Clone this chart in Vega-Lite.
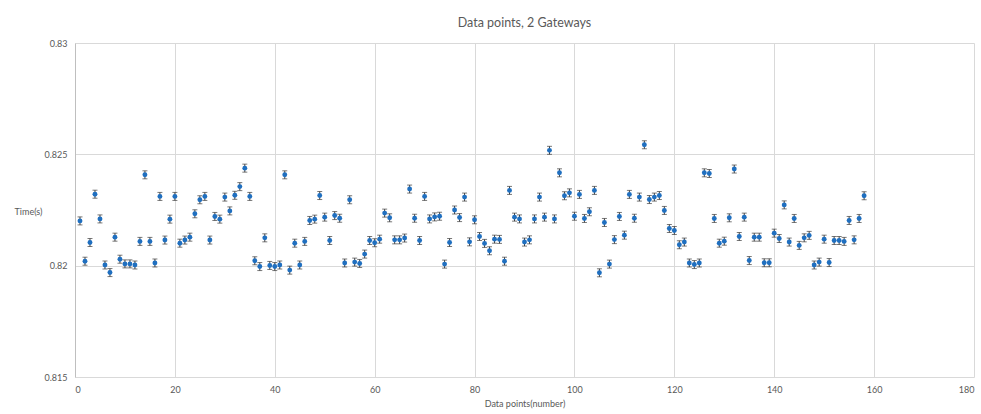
{
  "$schema": "https://vega.github.io/schema/vega-lite/v6.json",
  "autosize": "none",
  "width": 899,
  "height": 334,
  "padding": {"left": 75, "top": 43, "right": 7, "bottom": 37},
  "background": "white",
  "title": {
    "text": "Data points, 2 Gateways",
    "font": "Lato",
    "fontSize": 12.5,
    "fontWeight": "normal",
    "color": "#595959",
    "anchor": "middle",
    "offset": 10
  },
  "config": {
    "view": {"stroke": null},
    "axis": {
      "labelFont": "Lato",
      "titleFont": "Lato",
      "labelFontSize": 9,
      "titleFontSize": 9,
      "labelColor": "#595959",
      "titleColor": "#595959",
      "titleFontWeight": "normal",
      "gridColor": "#d9d9d9",
      "domainColor": "#bfbfbf",
      "ticks": false
    }
  },
  "data": {
    "values": [
      {"n":1,"t":0.82201,"err":0.00018},{"n":2,"t":0.8202,"err":0.00018},{"n":3,"t":0.82104,"err":0.00018},{"n":4,"t":0.82321,"err":0.00018},
      {"n":5,"t":0.8221,"err":0.00018},{"n":6,"t":0.82003,"err":0.00018},{"n":7,"t":0.81969,"err":0.00018},{"n":8,"t":0.82128,"err":0.00018},
      {"n":9,"t":0.82029,"err":0.00018},{"n":10,"t":0.82008,"err":0.00018},{"n":11,"t":0.82008,"err":0.00018},{"n":12,"t":0.82003,"err":0.00018},
      {"n":13,"t":0.82109,"err":0.00018},{"n":14,"t":0.82408,"err":0.00018},{"n":15,"t":0.82109,"err":0.00018},{"n":16,"t":0.82012,"err":0.00018},
      {"n":17,"t":0.82311,"err":0.00018},{"n":18,"t":0.82115,"err":0.00018},{"n":19,"t":0.82209,"err":0.00018},{"n":20,"t":0.82311,"err":0.00018},
      {"n":21,"t":0.82101,"err":0.00018},{"n":22,"t":0.82115,"err":0.00018},{"n":23,"t":0.82128,"err":0.00018},{"n":24,"t":0.82233,"err":0.00018},
      {"n":25,"t":0.82296,"err":0.00018},{"n":26,"t":0.82311,"err":0.00018},{"n":27,"t":0.82115,"err":0.00018},{"n":28,"t":0.82221,"err":0.00018},
      {"n":29,"t":0.82209,"err":0.00018},{"n":30,"t":0.82308,"err":0.00018},{"n":31,"t":0.82246,"err":0.00018},{"n":32,"t":0.82316,"err":0.00018},
      {"n":33,"t":0.82355,"err":0.00018},{"n":34,"t":0.82438,"err":0.00018},{"n":35,"t":0.82311,"err":0.00018},{"n":36,"t":0.82022,"err":0.00018},
      {"n":37,"t":0.81996,"err":0.00018},{"n":38,"t":0.82125,"err":0.00018},{"n":39,"t":0.82001,"err":0.00018},{"n":40,"t":0.81996,"err":0.00018},
      {"n":41,"t":0.82003,"err":0.00018},{"n":42,"t":0.82408,"err":0.00018},{"n":43,"t":0.8198,"err":0.00018},{"n":44,"t":0.82101,"err":0.00018},
      {"n":45,"t":0.82003,"err":0.00018},{"n":46,"t":0.82109,"err":0.00018},{"n":47,"t":0.82203,"err":0.00018},{"n":48,"t":0.82209,"err":0.00018},
      {"n":49,"t":0.82315,"err":0.00018},{"n":50,"t":0.82218,"err":0.00018},{"n":51,"t":0.82113,"err":0.00018},{"n":52,"t":0.82225,"err":0.00018},
      {"n":53,"t":0.82213,"err":0.00018},{"n":54,"t":0.82012,"err":0.00018},{"n":55,"t":0.82296,"err":0.00018},{"n":56,"t":0.82016,"err":0.00018},
      {"n":57,"t":0.8201,"err":0.00018},{"n":58,"t":0.82052,"err":0.00018},{"n":59,"t":0.82113,"err":0.00018},{"n":60,"t":0.82103,"err":0.00018},
      {"n":61,"t":0.82119,"err":0.00018},{"n":62,"t":0.82236,"err":0.00018},{"n":63,"t":0.82215,"err":0.00018},{"n":64,"t":0.82116,"err":0.00018},
      {"n":65,"t":0.82116,"err":0.00018},{"n":66,"t":0.82124,"err":0.00018},{"n":67,"t":0.82344,"err":0.00018},{"n":68,"t":0.82213,"err":0.00018},
      {"n":69,"t":0.82113,"err":0.00018},{"n":70,"t":0.82311,"err":0.00018},{"n":71,"t":0.8221,"err":0.00018},{"n":72,"t":0.82219,"err":0.00018},
      {"n":73,"t":0.82222,"err":0.00018},{"n":74,"t":0.82007,"err":0.00018},{"n":75,"t":0.82104,"err":0.00018},{"n":76,"t":0.8225,"err":0.00018},
      {"n":77,"t":0.82216,"err":0.00018},{"n":78,"t":0.82308,"err":0.00018},{"n":79,"t":0.82107,"err":0.00018},{"n":80,"t":0.82206,"err":0.00018},
      {"n":81,"t":0.82131,"err":0.00018},{"n":82,"t":0.821,"err":0.00018},{"n":83,"t":0.82067,"err":0.00018},{"n":84,"t":0.82119,"err":0.00018},
      {"n":85,"t":0.82118,"err":0.00018},{"n":86,"t":0.8202,"err":0.00018},{"n":87,"t":0.82338,"err":0.00018},{"n":88,"t":0.82218,"err":0.00018},
      {"n":89,"t":0.8221,"err":0.00018},{"n":90,"t":0.82106,"err":0.00018},{"n":91,"t":0.82116,"err":0.00018},{"n":92,"t":0.8221,"err":0.00018},
      {"n":93,"t":0.82308,"err":0.00018},{"n":94,"t":0.82218,"err":0.00018},{"n":95,"t":0.82518,"err":0.00018},{"n":96,"t":0.8221,"err":0.00018},
      {"n":97,"t":0.82417,"err":0.00018},{"n":98,"t":0.82314,"err":0.00018},{"n":99,"t":0.82327,"err":0.00018},{"n":100,"t":0.82222,"err":0.00018},
      {"n":101,"t":0.8232,"err":0.00018},{"n":102,"t":0.82212,"err":0.00018},{"n":103,"t":0.82242,"err":0.00018},{"n":104,"t":0.82338,"err":0.00018},
      {"n":105,"t":0.81968,"err":0.00018},{"n":106,"t":0.82194,"err":0.00018},{"n":107,"t":0.82007,"err":0.00018},{"n":108,"t":0.82117,"err":0.00018},
      {"n":109,"t":0.82221,"err":0.00018},{"n":110,"t":0.82137,"err":0.00018},{"n":111,"t":0.8232,"err":0.00018},{"n":112,"t":0.82213,"err":0.00018},
      {"n":113,"t":0.82308,"err":0.00018},{"n":114,"t":0.82543,"err":0.00018},{"n":115,"t":0.82297,"err":0.00018},{"n":116,"t":0.82308,"err":0.00018},
      {"n":117,"t":0.82315,"err":0.00018},{"n":118,"t":0.82248,"err":0.00018},{"n":119,"t":0.82167,"err":0.00018},{"n":120,"t":0.82158,"err":0.00018},
      {"n":121,"t":0.82094,"err":0.00018},{"n":122,"t":0.82106,"err":0.00018},{"n":123,"t":0.82012,"err":0.00018},{"n":124,"t":0.82005,"err":0.00018},
      {"n":125,"t":0.82012,"err":0.00018},{"n":126,"t":0.82417,"err":0.00018},{"n":127,"t":0.82414,"err":0.00018},{"n":128,"t":0.82212,"err":0.00018},
      {"n":129,"t":0.82101,"err":0.00018},{"n":130,"t":0.8211,"err":0.00018},{"n":131,"t":0.82215,"err":0.00018},{"n":132,"t":0.82434,"err":0.00018},
      {"n":133,"t":0.82131,"err":0.00018},{"n":134,"t":0.82218,"err":0.00018},{"n":135,"t":0.82023,"err":0.00018},{"n":136,"t":0.82128,"err":0.00018},
      {"n":137,"t":0.82128,"err":0.00018},{"n":138,"t":0.82013,"err":0.00018},{"n":139,"t":0.82013,"err":0.00018},{"n":140,"t":0.82146,"err":0.00018},
      {"n":141,"t":0.82122,"err":0.00018},{"n":142,"t":0.82273,"err":0.00018},{"n":143,"t":0.82106,"err":0.00018},{"n":144,"t":0.82212,"err":0.00018},
      {"n":145,"t":0.82091,"err":0.00018},{"n":146,"t":0.82125,"err":0.00018},{"n":147,"t":0.82136,"err":0.00018},{"n":148,"t":0.82003,"err":0.00018},
      {"n":149,"t":0.82016,"err":0.00018},{"n":150,"t":0.82119,"err":0.00018},{"n":151,"t":0.82014,"err":0.00018},{"n":152,"t":0.82113,"err":0.00018},
      {"n":153,"t":0.82113,"err":0.00018},{"n":154,"t":0.82109,"err":0.00018},{"n":155,"t":0.82203,"err":0.00018},{"n":156,"t":0.82116,"err":0.00018},
      {"n":157,"t":0.82212,"err":0.00018},{"n":158,"t":0.82314,"err":0.00018}
    ]
  },
  "encoding": {
    "x": {
      "field": "n",
      "type": "quantitative",
      "scale": {"domain": [0, 180], "nice": false},
      "axis": {
        "values": [0, 20, 40, 60, 80, 100, 120, 140, 160, 180],
        "title": "Data points(number)",
        "labelPadding": 8,
        "titlePadding": 5,
        "domain": false
      }
    }
  },
  "layer": [
    {
      "mark": {
        "type": "errorbar",
        "color": "#404040",
        "thickness": 1,
        "ticks": {"size": 5, "color": "#404040", "thickness": 1}
      },
      "encoding": {
        "y": {
          "field": "t",
          "type": "quantitative",
          "scale": {"domain": [0.815, 0.83], "nice": false, "zero": false},
          "axis": {
            "values": [0.815, 0.82, 0.825, 0.83],
            "format": "~g",
            "title": "Time(s)",
            "titleAngle": 0,
            "titleAlign": "center",
            "titleBaseline": "middle",
            "titleX": -47,
            "titleY": 168,
            "labelPadding": 8,
            "domain": true
          }
        },
        "yError": {"field": "err"}
      }
    },
    {
      "mark": {"type": "circle", "size": 24, "color": "#1f6fc0", "opacity": 1},
      "encoding": {
        "y": {"field": "t", "type": "quantitative"}
      }
    }
  ]
}
